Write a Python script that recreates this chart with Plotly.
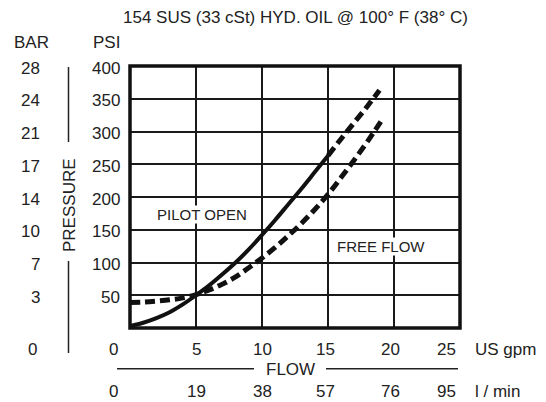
import plotly.graph_objects as go

# ---- data ----
pilot_flow = [0, 1, 2, 3, 4, 5, 6, 7, 8, 9, 10, 11, 12, 13, 14, 15]
pilot_psi = [3, 8, 15, 24, 36, 50, 65, 82, 100, 120, 142, 165, 189, 213, 238, 263]
pilot_ext_flow = [15, 16, 17, 18, 18.9]
pilot_ext_psi = [263, 289, 314, 339, 363]
free_flow = [0, 1, 2, 3, 4, 5, 6, 7, 8, 9, 10, 11, 12, 13, 14, 15, 16, 17, 18, 19]
free_psi = [39, 39.5, 41, 43, 46, 51, 58, 67, 78, 92, 107, 123, 141, 160, 181, 204, 230, 257, 285, 315]

gpm_ticks = [0, 5, 10, 15, 20, 25]
lpm_labels = ["0", "19", "38", "57", "76", "95"]
psi_ticks = [50, 100, 150, 200, 250, 300, 350, 400]
bar_labels = ["3", "7", "10", "14", "17", "21", "24", "28"]

title = "154 SUS (33 cSt) HYD. OIL @ 100° F (38° C)"

# ---- layout geometry (pixels of the browser window; the page body adds an 8px margin) ----
OFF = 8
W, H = 546 - OFF, 402 - OFF
L, T = 130 - OFF, 66 - OFF
PW, PH = 330, 262
R, B = W - L - PW, H - T - PH
FONT = "Liberation Sans, Arial, sans-serif"
TXT = "#222222"


def px(p):
    return (p - OFF - L) / PW


def py(p):
    return (T + PH - (p - OFF)) / PH


fig = go.Figure()
fig.add_trace(go.Scatter(x=pilot_flow, y=pilot_psi, mode="lines",
                         line=dict(color="#111", width=4, shape="spline"),
                         hoverinfo="skip", showlegend=False))
fig.add_trace(go.Scatter(x=pilot_ext_flow, y=pilot_ext_psi, mode="lines",
                         line=dict(color="#111", width=5, dash="10px,5px", shape="spline"),
                         hoverinfo="skip", showlegend=False))
fig.add_trace(go.Scatter(x=free_flow, y=free_psi, mode="lines",
                         line=dict(color="#111", width=5, dash="10px,5px", shape="spline"),
                         hoverinfo="skip", showlegend=False))

ann = []


def text(x, y, s, size=17, xanchor="center", yanchor="middle", xref="paper", yref="paper", **kw):
    ann.append(dict(x=x, y=y, text=s, showarrow=False, xref=xref, yref=yref, xanchor=xanchor,
                    yanchor=yanchor, font=dict(family=FONT, size=size, color=TXT), **kw))


text(px(295.5), py(18), title, size=17)
text(px(31.7), py(42), "BAR")
text(px(106), py(42), "PSI")

for v, b in zip(psi_ticks, bar_labels):
    text(px(122), v, str(v), xanchor="right", yref="y", yshift=-2)
    text(px(42), v, b, xanchor="right", yref="y", yshift=-2)

text(px(32.5), py(349), "0")

x_shift = {0: -17, 5: 0, 10: 0, 15: -3, 20: -4, 25: -14}
for v, lab in zip(gpm_ticks, lpm_labels):
    text(v, py(349), str(v), xref="x", xshift=x_shift[v])
    text(v, py(391), lab, xref="x", xshift=x_shift[v])

text(px(473), py(349), "US gpm", xanchor="left")
text(px(473), py(391), "l / min", xanchor="left")

text(px(290), py(369), "FLOW")
text(px(69), py(205), "PRESSURE", textangle=-90)

text(5.43, 174, "PILOT OPEN", size=15, xref="x", yref="y", bgcolor="white", borderpad=0)
text(19.0, 125, "FREE FLOW", size=15, xref="x", yref="y", bgcolor="white", borderpad=0)

shapes = [
    dict(type="rect", xref="paper", yref="paper", x0=0, x1=1, y0=0, y1=1,
         line=dict(color="#111", width=3.5), layer="above"),
    dict(type="line", xref="paper", yref="paper", x0=px(68.5), x1=px(68.5), y0=py(67), y1=py(142),
         line=dict(color=TXT, width=1.5)),
    dict(type="line", xref="paper", yref="paper", x0=px(68.5), x1=px(68.5), y0=py(261), y1=py(353),
         line=dict(color=TXT, width=1.5)),
    dict(type="line", xref="paper", yref="paper", x0=px(117), x1=px(254), y0=py(368.7), y1=py(368.7),
         line=dict(color=TXT, width=1.5)),
    dict(type="line", xref="paper", yref="paper", x0=px(326), x1=px(458), y0=py(368.7), y1=py(368.7),
         line=dict(color=TXT, width=1.5)),
]

fig.update_layout(
    width=W, height=H, margin=dict(l=L, r=R, t=T, b=B),
    paper_bgcolor="white", plot_bgcolor="white",
    xaxis=dict(range=[0, 25], dtick=5, showgrid=True, gridcolor="#1a1a1a", gridwidth=1.8,
               showticklabels=False, zeroline=False, ticks="", fixedrange=True),
    yaxis=dict(range=[0, 400], dtick=50, showgrid=True, gridcolor="#1a1a1a", gridwidth=1.8,
               showticklabels=False, zeroline=False, ticks="", fixedrange=True),
    annotations=ann, shapes=shapes, showlegend=False,
)
fig.write_html("out.html", config={"displayModeBar": False})
